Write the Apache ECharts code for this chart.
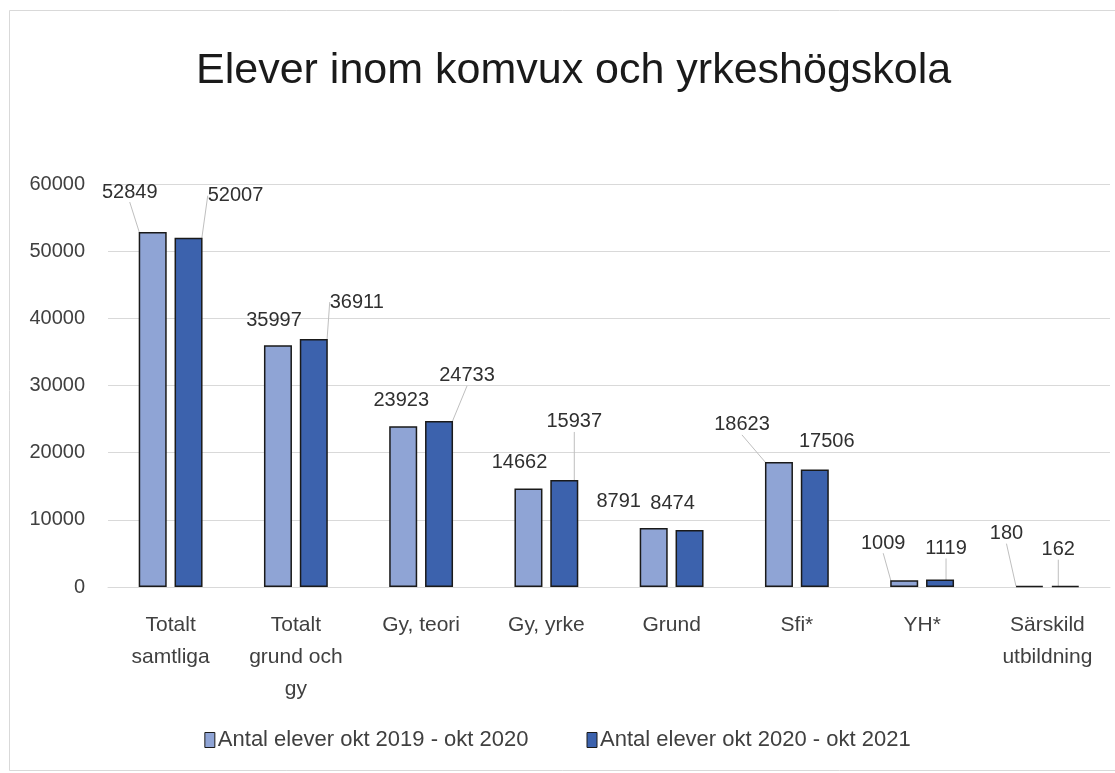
<!DOCTYPE html>
<html>
<head>
<meta charset="utf-8">
<script src="https://cdn.jsdelivr.net/npm/echarts@6/dist/echarts.min.js"></script>
<style>
  html, body { margin: 0; padding: 0; background: #fff; }
  #chart { width: 1115px; height: 773px; }
</style>
</head>
<body>
<div id="chart"></div>
<script>
// kategorier och värden
var categories = ['Totalt\nsamtliga', 'Totalt\ngrund och\ngy', 'Gy, teori', 'Gy, yrke', 'Grund', 'Sfi*', 'YH*', 'Särskild\nutbildning'];
var seriesNames = ['Antal elever okt 2019 - okt 2020', 'Antal elever okt 2020 - okt 2021'];
var values2019 = [52849, 35997, 23923, 14662, 8791, 18623, 1009, 180];
var values2020 = [52007, 36911, 24733, 15937, 8474, 17506, 1119, 162];
var yTicks = [0, 10000, 20000, 30000, 40000, 50000, 60000];

// etiketternas förflyttning (dx, dy) och om de har hänvisningslinje
var shift2019 = [[-23, -30], [-4, -15], [-2, -16], [-9, -16], [-35, -16], [-37, -27], [-21, -27], [-23, -42]];
var shift2020 = [[47, -32], [43, -27], [28, -35], [10, -48], [-17, -17], [12, -18], [6, -21], [-7, -26]];
var line2019 = [true, false, false, false, false, true, true, true];
var line2020 = [true, true, true, true, false, false, true, true];

var font = '"Liberation Sans", Arial, sans-serif';
var colors = ['#8FA4D5', '#3C62AD'];

function makeData(vals, lines) {
  return vals.map(function (v, i) {
    return { value: v, labelLine: { show: lines[i] } };
  });
}

function makeSeries(idx, vals, shifts, lines) {
  return {
    name: seriesNames[idx],
    type: 'bar',
    barWidth: 28,
    barGap: '28%',
    data: makeData(vals, lines),
    itemStyle: {
      color: colors[idx],
      borderColor: '#1a1a1a',
      borderWidth: 1.5
    },
    label: {
      show: true,
      position: 'top',
      distance: 0,
      fontFamily: font,
      fontSize: 20,
      color: '#303030'
    },
    labelLine: {
      show: true,
      lineStyle: { color: '#bfbfbf', width: 1 }
    },
    labelLayout: function (p) {
      var s = shifts[p.dataIndex];
      return { dx: s[0], dy: s[1] };
    }
  };
}

var chart = echarts.init(document.getElementById('chart'));
var option = {
  backgroundColor: '#fff',
  animation: false,
  title: {
    text: 'Elever inom komvux och yrkeshögskola',
    left: 191,
    top: 45,
    textStyle: {
      fontFamily: font,
      fontSize: 43,
      fontWeight: 'normal',
      color: '#1a1a1a'
    }
  },
  graphic: [{
    type: 'rect',
    shape: { x: 9.5, y: 10.5, width: 1110, height: 760 },
    style: { fill: 'none', stroke: '#d9d9d9', lineWidth: 1 },
    silent: true
  }],
  legend: {
    bottom: 17,
    left: 'center',
    itemWidth: 10,
    itemHeight: 15,
    itemGap: 58,
    icon: 'rect',
    textStyle: { fontFamily: font, fontSize: 22, color: '#404040', padding: [0, 0, 0, -2] },
    itemStyle: { borderColor: '#1a1a1a', borderWidth: 1 },
    data: seriesNames
  },
  grid: {
    left: 108,
    right: 5,
    top: 184,
    bottom: 186,
    containLabel: false
  },
  xAxis: {
    type: 'category',
    data: categories,
    axisTick: { show: false },
    axisLine: { lineStyle: { color: '#d9d9d9', width: 1 } },
    axisLabel: {
      interval: 0,
      margin: 22,
      fontFamily: font,
      fontSize: 21,
      lineHeight: 32,
      color: '#404040'
    }
  },
  yAxis: {
    type: 'value',
    min: yTicks[0],
    max: yTicks[yTicks.length - 1],
    interval: 10000,
    axisLine: { show: false },
    axisTick: { show: false },
    splitLine: { lineStyle: { color: '#d9d9d9', width: 1 } },
    axisLabel: {
      margin: 23,
      fontFamily: font,
      fontSize: 20,
      color: '#404040',
      formatter: function (v) { return String(v); }
    }
  },
  series: [
    makeSeries(0, values2019, shift2019, line2019),
    makeSeries(1, values2020, shift2020, line2020)
  ]
};
chart.setOption(option);
</script>
</body>
</html>
